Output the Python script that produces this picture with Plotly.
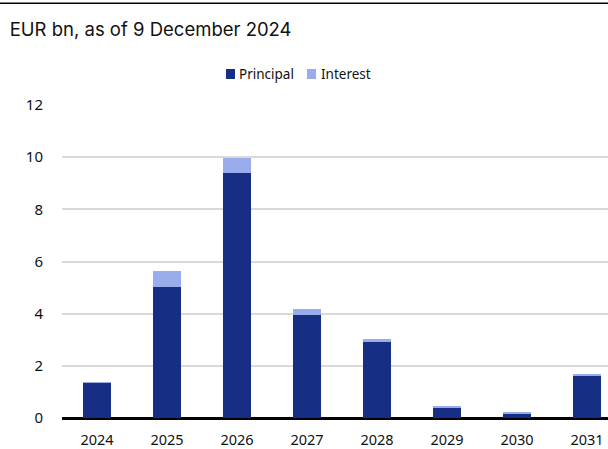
import plotly.graph_objects as go

years = ["2024", "2025", "2026", "2027", "2028", "2029", "2030", "2031"]
principal = [1.35, 5.02, 9.41, 3.95, 2.90, 0.40, 0.18, 1.64]
interest = [0.03, 0.60, 0.56, 0.23, 0.13, 0.03, 0.02, 0.01]
y_ticks = [0, 2, 4, 6, 8, 10, 12]

c_principal = "#162E84"
c_interest = "#99ADEC"

fig = go.Figure()
fig.add_trace(go.Bar(name="Principal", x=years, y=principal, marker=dict(color=c_principal, line=dict(width=0))))
fig.add_trace(go.Bar(name="Interest", x=years, y=interest, marker=dict(color=c_interest, line=dict(width=0))))

legend_font = dict(family="Noto Sans, Liberation Sans, sans-serif", size=13.5, color="#111111")

fig.update_layout(
    barmode="stack",
    bargap=0.6,
    width=608, height=449,
    margin=dict(l=62, r=0, t=105, b=31, autoexpand=False),
    paper_bgcolor="white", plot_bgcolor="white",
    font=dict(family="Noto Sans, Liberation Sans, sans-serif", size=15, color="#111111"),
    title=dict(text="EUR bn, as of 9 December 2024", x=0.016, xanchor="left", y=0.935, yanchor="middle",
               font=dict(family="Inter, Liberation Sans, sans-serif", size=18.5, color="#111111")),
    showlegend=False,
    hovermode=False,
    xaxis=dict(range=[-0.5, 7.3], showgrid=False, showline=False, ticks="outside", ticklen=9,
               tickcolor="rgba(0,0,0,0)", tickfont=dict(size=14.5), automargin=False),
    yaxis=dict(range=[0, 12], tickvals=y_ticks, showgrid=True, gridcolor="#d9d9d9", gridwidth=1.5,
               zeroline=True, zerolinecolor="#000000", zerolinewidth=2.5, ticks="outside", ticklen=15,
               tickcolor="rgba(0,0,0,0)", tickfont=dict(size=15), showline=False, automargin=False),
    shapes=[
        dict(type="line", xref="paper", yref="paper", x0=-0.2, x1=1.1, y0=1.325, y1=1.325,
             line=dict(color="#000000", width=1.5)),
        dict(type="rect", xref="paper", yref="paper", x0=0.3004, x1=0.3168, y0=1.0831, y1=1.115,
             fillcolor=c_principal, line=dict(width=0)),
        dict(type="rect", xref="paper", yref="paper", x0=0.4487, x1=0.4652, y0=1.0831, y1=1.115,
             fillcolor=c_interest, line=dict(width=0)),
    ],
    annotations=[
        dict(text="Principal", xref="paper", yref="paper", x=0.3205, y=1.099, xanchor="left",
             yanchor="middle", showarrow=False, font=legend_font),
        dict(text="Interest", xref="paper", yref="paper", x=0.4708, y=1.099, xanchor="left",
             yanchor="middle", showarrow=False, font=legend_font),
    ],
)

fig.write_html("out.html", config={"displayModeBar": False},
               post_script="document.body.style.margin='0';")
